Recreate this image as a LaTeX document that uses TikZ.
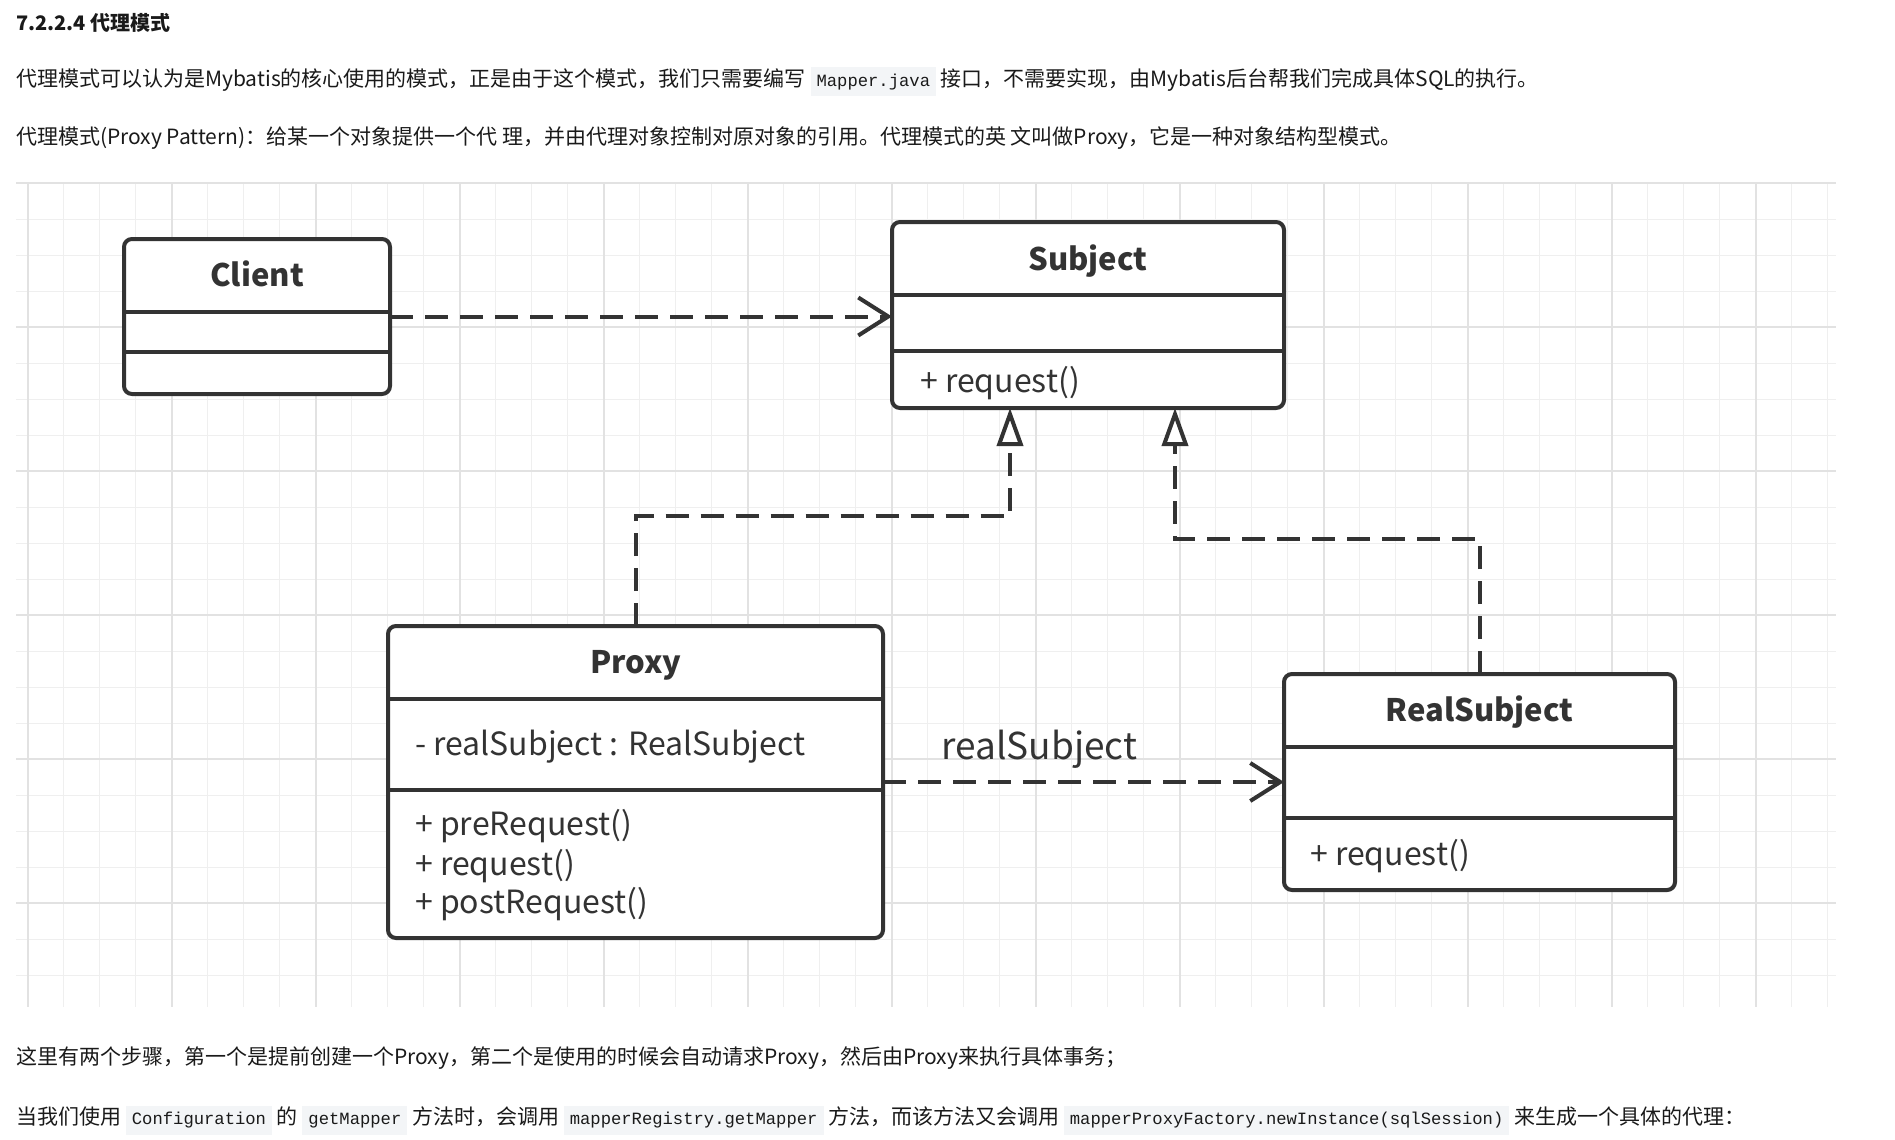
\documentclass[tikz,border=0pt]{standalone}
\usepackage{fontspec}
\usepackage{tikz}
\usetikzlibrary{positioning,calc,arrows.meta}
\usepackage{xcolor}
\newfontfamily\cjk{Noto Sans CJK SC}
\newfontfamily\mono{Liberation Mono}
\definecolor{umlgray}{HTML}{333333}
\definecolor{codebg}{HTML}{F3F5F7}
\definecolor{gridminor}{HTML}{EFEFEF}
\definecolor{gridmajor}{HTML}{E2E2E2}
\definecolor{textblack}{HTML}{1A1A1A}
\newcommand{\codetext}[1]{{\setlength{\fboxsep}{0pt}\colorbox{codebg}{\rule[-10pt]{0pt}{29pt}\hspace{6pt}{\mono\fontsize{17.2}{20}\selectfont #1}\hspace{6pt}}}}
\tikzset{
    every node/.style={inner sep=0pt, text=textblack},
    para/.style={font=\cjk\fontsize{21}{26}\selectfont, anchor=base west},
    umlbox/.style={draw=umlgray, line width=4pt, rounded corners=8pt, fill=white, outer sep=0pt},
    classname/.style={font=\cjk\bfseries\fontsize{31}{38}\selectfont, text=umlgray, anchor=base},
    member/.style={font=\cjk\fontsize{32}{38}\selectfont, text=umlgray, anchor=base west},
    divider/.style={draw=umlgray, line width=4pt},
    dep/.style={umlgray, line width=4pt, dash pattern=on 23pt off 12pt, -{Straight Barb[length=30pt,width=38pt]}},
    real/.style={umlgray, line width=4pt, dash pattern=on 23pt off 12pt, -{Triangle[length=38pt,width=26pt,open,fill=white]}},
}

\begin{document}
\begin{tikzpicture}[x=1pt, y=-1pt]
\fill[white] (0,0) rectangle (1895,1140);
\useasboundingbox (0,0) rectangle (1895,1140);
% background grid
\foreach \x in {0,...,50} \draw[gridminor, line width=1.2pt] (27.5+36*\x,183.3) -- (27.5+36*\x,1007);
\foreach \y in {0,...,22} \draw[gridminor, line width=1.2pt] (16,183.3+36*\y) -- (1836,183.3+36*\y);
\foreach \x in {0,4,...,48} \draw[gridmajor, line width=2pt] (27.5+36*\x,183.3) -- (27.5+36*\x,1007);
\foreach \y in {0,4,...,20} \draw[gridmajor, line width=2pt] (16,183.3+36*\y) -- (1836,183.3+36*\y);

% text above the diagram
\node[para, font=\cjk\bfseries\fontsize{20}{26}\selectfont] (title) at (16,31) {7.2.2.4 代理模式};
\node[para] (intro) at (16,86) {代理模式可以认为是Mybatis的核心使用的模式，正是由于这个模式，我们只需要编写 \codetext{Mapper.java} 接口，不需要实现，由Mybatis后台帮我们完成具体SQL的执行。};
\node[para] (defn) at (16,144.3) {代理模式(Proxy Pattern)：给某一个对象提供一个代 理，并由代理对象控制对原对象的引用。代理模式的英 文叫做Proxy，它是一种对象结构型模式。};

% the four classes
\node[umlbox, minimum width=266, minimum height=155] (client) at (257,316.5) {};
\node[umlbox, minimum width=392, minimum height=186] (subject) at (1088,315) {};
\node[umlbox, minimum width=495, minimum height=312] (proxy) at (635.5,782) {};
\node[umlbox, minimum width=391, minimum height=216] (realsub) at (1479.5,782) {};

\draw[divider] ($(client.north west)+(0,73)$) -- ($(client.north east)+(0,73)$);
\draw[divider] ($(client.north west)+(0,113)$) -- ($(client.north east)+(0,113)$);
\draw[divider] ($(subject.north west)+(0,73)$) -- ($(subject.north east)+(0,73)$);
\draw[divider] ($(subject.north west)+(0,129)$) -- ($(subject.north east)+(0,129)$);
\draw[divider] ($(proxy.north west)+(0,73)$) -- ($(proxy.north east)+(0,73)$);
\draw[divider] ($(proxy.north west)+(0,164)$) -- ($(proxy.north east)+(0,164)$);
\draw[divider] ($(realsub.north west)+(0,73)$) -- ($(realsub.north east)+(0,73)$);
\draw[divider] ($(realsub.north west)+(0,144)$) -- ($(realsub.north east)+(0,144)$);

\node[classname] (clientname) at ($(client.north)+(0,47.7)$) {Client};
\node[classname] (subjectname) at ($(subject.north)+(0,48)$) {Subject};
\node[member] (subjectop) at ($(subject.north west)+(28,170.7)$) {+ request()};
\node[classname] (proxyname) at ($(proxy.north)+(0,47)$) {Proxy};
\node[member] (proxyattr) at ($(proxy.north west)+(27,129)$) {- realSubject : RealSubject};
\node[member] (proxyop1) at ($(proxy.north west)+(27,209)$) {+ preRequest()};
\node[member] (proxyop2) at ($(proxy.north west)+(27,249)$) {+ request()};
\node[member] (proxyop3) at ($(proxy.north west)+(27,287)$) {+ postRequest()};
\node[classname] (realsubname) at ($(realsub.north)+(0,47.7)$) {RealSubject};
\node[member] (realsubop) at ($(realsub.north west)+(26,191)$) {+ request()};

% connectors
\coordinate (subjL) at ($(subject.south west)+(118,0)$);
\coordinate (subjR) at ($(subject.south west)+(283,0)$);
\draw[dep] (client.east) -- (client.east -| subject.west);
\draw[real] (proxy.north) -- ++(0,-110) -| (subjL);
\draw[real] (realsub.north) -- ++(0,-135) -| (subjR);
\draw[dep] (proxy.east) -- (realsub.west)
    node[pos=0.39, anchor=base, yshift=23pt, font=\cjk\fontsize{37}{42}\selectfont, text=umlgray] (reflabel) {realSubject};

% text below the diagram
\node[para] (steps) at (16,1064.5) {这里有两个步骤，第一个是提前创建一个Proxy，第二个是使用的时候会自动请求Proxy，然后由Proxy来执行具体事务；};
\node[para] (usage) at (16,1124.5) {当我们使用 \codetext{Configuration} 的 \codetext{getMapper} 方法时，会调用 \codetext{mapperRegistry.getMapper} 方法，而该方法又会调用 \codetext{mapperProxyFactory.newInstance(sqlSession)} 来生成一个具体的代理：};
\end{tikzpicture}
\end{document}
